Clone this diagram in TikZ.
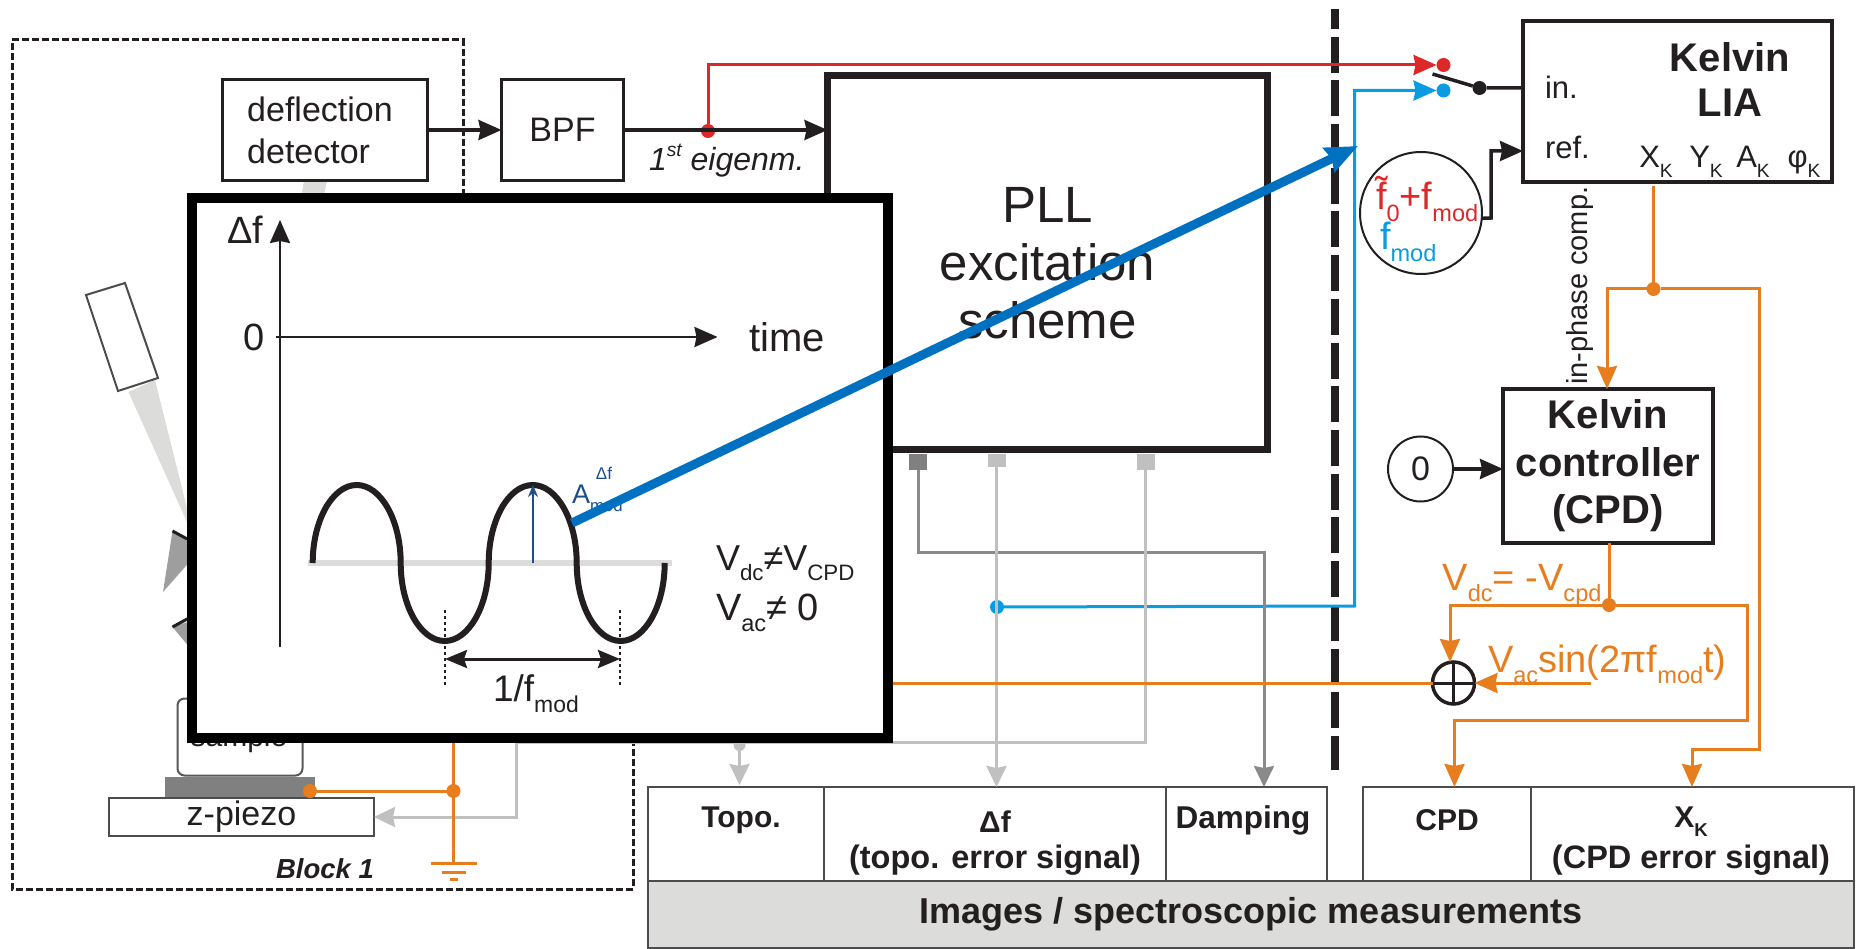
\documentclass[tikz,border=0pt]{standalone}
\usepackage{fontspec}
\setmainfont{Liberation Sans}
\usetikzlibrary{arrows.meta,calc}
\newcommand{\fsize}[1]{\fontsize{#1}{#1}\selectfont}
\newcommand{\subs}[1]{\raisebox{-.3em}{\scalebox{.62}{#1}}}
\definecolor{inkblack}{RGB}{35,31,32}
\definecolor{wireorange}{RGB}{232,125,30}
\definecolor{wirered}{RGB}{220,40,40}
\definecolor{wireblue}{RGB}{10,155,224}
\definecolor{thickblue}{RGB}{0,112,192}
\definecolor{ampblue}{RGB}{31,78,140}
\definecolor{wirelight}{RGB}{192,192,192}
\definecolor{wiredark}{RGB}{138,138,138}
\definecolor{tablegray}{RGB}{220,220,218}

\begin{document}
\begin{tikzpicture}[
  x=1pt,y=-1pt,
  every node/.style={inner sep=0pt,outer sep=0pt,text=inkblack},
  box/.style={draw=inkblack,fill=white,line width=3.5pt,align=center},
  cellbox/.style={draw=black!70,fill=white,line width=2pt},
  lbl/.style={anchor=base west},
  tablelbl/.style={font=\fsize{30}\bfseries},
  tablewide/.style={font=\fsize{32.5}\bfseries},
  dotnode/.style={circle,fill,inner sep=0pt,minimum size=14pt},
  portbox/.style={minimum width=18pt,minimum height=16pt},
  arrow/.style={-{Stealth[length=23pt,width=20pt,inset=2pt]},line width=3.5pt,draw=inkblack},
  orangearrow/.style={arrow,line width=3pt,draw=wireorange,color=wireorange},
  orangeline/.style={line width=3pt,draw=wireorange},
  lightarrow/.style={-{Stealth[length=21pt,width=20pt,inset=2pt]},line width=3pt,draw=wirelight,color=wirelight},
  darkarrow/.style={-{Stealth[length=21pt,width=20pt,inset=2pt]},line width=3pt,draw=wiredark,color=wiredark},
  redarrow/.style={arrow,line width=3pt,draw=wirered,color=wirered},
  bluearrow/.style={arrow,line width=3pt,draw=wireblue,color=wireblue}
]
\useasboundingbox (0,0) rectangle (1856,949);

% block 1 frame
\draw[line width=3pt,draw=inkblack,dash pattern=on 7pt off 3pt]
  (12,40) -- (463,40) -- (463,400) -- (633,400) -- (633,889) -- (12,889) -- cycle;

% optics
\fill[tablegray] (304,181) -- (327,181) -- (310,260) -- (290,260) -- cycle;
\fill[tablegray] (128.5,392) -- (155,380) -- (195,540) -- cycle;
\draw[line width=2pt,draw=black!70] (86,295) -- (125,283) -- (158,378) -- (118,391) -- cycle;
\fill[black!38] (172.5,531) -- (163,592) -- (200,550) -- cycle;
\draw[line width=3pt,draw=inkblack] (172.5,531) -- (200,546);
\fill[black!38] (172.5,627) -- (200,618) -- (200,660) -- cycle;
\draw[line width=3pt,draw=inkblack] (172.5,627) -- (200,612);

% boxes
\node[box,minimum width=205pt,minimum height=101pt,font=\fsize{34},align=left] (detectbox) at (325,130)
  {deflection\hspace*{10pt}\\[8pt]detector};
\node[box,minimum width=122pt,minimum height=101pt,font=\fsize{34}] (bpfbox) at (562.5,130) {BPF};
\node[box,line width=7pt,minimum width=440pt,minimum height=374pt,font=\fontsize{51}{58}\selectfont] (pllbox) at (1047.5,263)
  {PLL\\excitation\\scheme};
\node[box,minimum width=309pt,minimum height=161pt] (liabox) at (1677.5,101.5) {};
\node[box,minimum width=210pt,minimum height=154pt,font=\fontsize{40}{47.5}\selectfont\bfseries] (ctrlbox) at (1608,466)
  {Kelvin\\controller\\(CPD)};

\node[lbl,font=\fsize{40}\bfseries,anchor=center] (kelvintxt) at (1730,57) {Kelvin};
\node[lbl,font=\fsize{40}\bfseries,anchor=center] (liatxt) at (1730,103) {LIA};
\node[lbl,font=\fsize{31}] (intxt) at (1545,99) {in.};
\node[lbl,font=\fsize{31}] (reftxt) at (1545,159) {ref.};
\node[lbl,font=\fsize{31},anchor=base] (xktxt) at (1656,168) {X\subs{K}};
\node[lbl,font=\fsize{31},anchor=base] (yktxt) at (1706,168) {Y\subs{K}};
\node[lbl,font=\fsize{31},anchor=base] (aktxt) at (1753,168) {A\subs{K}};
\node[lbl,font=\fsize{31},anchor=base] (phitxt) at (1804,168) {φ\subs{K}};

% sample stage
\node[draw=black!65,fill=white,line width=2pt,rounded corners=7pt,minimum width=125pt,minimum height=77pt] (samplebox) at (240,737) {};
\node[lbl,font=\fsize{30},anchor=base] (sampletxt) at (239,746) {sample};
\node[fill=black!50,minimum width=150pt,minimum height=21pt] (stagebox) at (240,787.5) {};
\node[cellbox,minimum width=265pt,minimum height=38pt,font=\fsize{34}] (zbox) at (241.5,817) {z-piezo};
\node[lbl,font=\fsize{27.5}\bfseries\itshape] (blocktxt) at (276,878) {Block 1};

% port squares on the pll
\node[portbox,fill=black!50,anchor=north] (portdamp) at (918,454) {};
\node[portbox,fill=wirelight,anchor=north,minimum height=13pt] (portdf) at (996.5,454) {};
\node[portbox,fill=wirelight,anchor=north] (porttopo) at (1145.5,454) {};

% results table
\node[cellbox,minimum width=176pt,minimum height=94pt] (topocell) at (736,834) {};
\node[cellbox,minimum width=342pt,minimum height=94pt] (dfcell) at (995,834) {};
\node[cellbox,minimum width=161pt,minimum height=94pt] (dampcell) at (1246.5,834) {};
\node[cellbox,minimum width=168pt,minimum height=94pt] (cpdcell) at (1447,834) {};
\node[cellbox,minimum width=323pt,minimum height=94pt] (xkcell) at (1692.5,834) {};
\node[draw=black!70,fill=tablegray,line width=2pt,minimum width=1206pt,minimum height=67pt,
  font=\fsize{36}\bfseries] (imgbox) at (1251,914.5) {Images / spectroscopic measurements};
\node[tablelbl] (topotxt) at (741,820) {Topo.};
\node[tablelbl] (dftxt) at (995,822) {Δf};
\node[tablewide] (dferrtxt) at (995,860) {(topo. error signal)};
\node[tablelbl,font=\fsize{31.5}\bfseries] (damptxt) at (1243,820) {Damping};
\node[tablelbl] (cpdtxt) at (1447,820) {CPD};
\node[tablelbl] (xktabtxt) at (1691,822) {X\subs{K}};
\node[tablewide] (xkerrtxt) at (1691,860) {(CPD error signal)};

% divider
\draw[line width=7.5pt,draw=inkblack,dash pattern=on 36pt off 7.7pt,dash phase=16pt] (1335,9) -- (1335,770);

% switch and dots
\node[dotnode,wirered] (reddot) at (1443.5,65) {};
\node[dotnode,wireblue] (bluedot) at (1443.5,90.5) {};
\node[dotnode,inkblack] (pivotdot) at (1479.5,88) {};
\node[dotnode,wirered] (redjoin) at (708,131) {};
\node[dotnode,wireblue] (dfdot) at (997,607) {};
\node[dotnode,wireorange] (xkjoin) at (1653.5,289) {};
\node[dotnode,wireorange] (ctrljoin) at (1609,605) {};
\node[dotnode,wireorange] (stagedot) at (310,791) {};
\node[dotnode,wireorange] (gndjoin) at (453.5,791) {};
\node[dotnode,wirelight,minimum size=12pt] (topojoin) at (739.5,745) {};

% circles
\node[draw=inkblack,fill=white,circle,line width=2pt,minimum size=122pt] (fcircle) at (1421,213) {};
\node[lbl,font=\fsize{38},text=wirered] (ftop) at (1376,210) {\~{f}\subs{0}+f\subs{mod}};
\node[lbl,font=\fsize{38},text=wireblue] (fbot) at (1380,250) {f\subs{mod}};
\node[draw=inkblack,fill=white,circle,line width=2pt,minimum size=65pt,font=\fsize{34}] (zerocircle) at (1420.5,469) {0};
\node[draw=inkblack,fill=white,circle,line width=3.5pt,minimum size=42pt] (adder) at (1453.5,683) {};

% bends
\coordinate (leverend) at (1432.5,74);
\coordinate (refbend) at (1491,218);
\coordinate (refport) at (1523,151);
\coordinate (xkout) at (1653.5,186);
\coordinate (xkleft) at (1607,289);
\coordinate (xkright) at (1759,289);
\coordinate (xklow) at (1759,749);
\coordinate (xkdrop) at (1692,749);
\coordinate (xkin) at (1692,787);
\coordinate (ctrlin) at (1607,389);
\coordinate (ctrlout) at (1609,543);
\coordinate (addleft) at (1450,605);
\coordinate (addtop) at (1450,662);
\coordinate (ctrlright) at (1747.5,605);
\coordinate (cpdrise) at (1747.5,720);
\coordinate (cpdbend) at (1454.5,720);
\coordinate (cpdin) at (1454.5,787);
\coordinate (sinstart) at (1590.5,683);
\coordinate (gndleft) at (453.5,683);
\coordinate (gnd) at (453.5,863);
\coordinate (bluerise) at (1354.5,606);
\coordinate (damprow) at (918,552);
\coordinate (dampdrop) at (1264,552);
\coordinate (dampin) at (1264,787);
\coordinate (dfin) at (996.5,787);
\coordinate (topobend) at (1145.5,742);
\coordinate (topoin) at (739.5,785);
\coordinate (zrow) at (516.5,742);
\coordinate (zbend) at (516.5,817);

% connectors
\draw[arrow] (detectbox) -- (bpfbox);
\draw[arrow] (bpfbox) -- (bpfbox -| pllbox.west);
\draw[redarrow] (redjoin) |- (reddot);
\draw[bluearrow] (dfdot) -- (bluerise) |- (bluedot);
\draw[line width=3.5pt,draw=inkblack] (leverend) -- (pivotdot) -- (pivotdot -| liabox.west);
\draw[arrow] (fcircle.-5) -- (refbend) |- (refport);
\draw[arrow] (zerocircle) -- (zerocircle -| ctrlbox.west);

\draw[darkarrow] (portdamp) -- (damprow) -- (dampdrop) -- (dampin);
\draw[lightarrow] (portdf) -- (dfin);
\draw[lightarrow] (porttopo) -- (topobend) -- (zrow) -- (zbend) -- (zbox);
\draw[lightarrow] (topojoin) -- (topoin);

\draw[orangeline] (xkout) -- (xkjoin);
\draw[orangearrow] (xkjoin) -- (xkleft) -- (ctrlin);
\draw[orangearrow] (xkjoin) -- (xkright) -- (xklow) -- (xkdrop) -- (xkin);
\draw[orangeline] (ctrlout) -- (ctrljoin);
\draw[orangearrow] (ctrljoin) -- (addleft) -- (addtop);
\draw[orangearrow] (ctrljoin) -- (ctrlright) -- (cpdrise) -- (cpdbend) -- (cpdin);
\draw[orangearrow] (sinstart) -- (adder);
\draw[orangeline] (adder) -- (gndleft) -- (gnd);
\draw[orangeline] (stagedot) -- (gndjoin);
\draw[orangeline] ($(gnd)+(-23,0)$) -- ($(gnd)+(23,0)$);
\draw[orangeline] ($(gnd)+(-12,9)$) -- ($(gnd)+(12,9)$);
\draw[orangeline] ($(gnd)+(-4,16)$) -- ($(gnd)+(4,16)$);
\draw[line width=3pt,draw=inkblack] (adder.north) -- (adder.south);
\draw[line width=3pt,draw=inkblack] (adder.west) -- (adder.east);

% wire labels
\node[lbl,font=\fsize{32}\itshape] (eigentxt) at (649,171) {1\raisebox{.45em}{\scalebox{.6}{st}} eigenm.};
\node[lbl,font=\fsize{29},rotate=90,anchor=west] (phasetxt) at (1580,385) {in-phase comp.};
\node[lbl,font=\fsize{38},text=wireorange] (vdctxt) at (1442.5,590) {V\subs{dc}= -V\subs{cpd}};
\node[lbl,font=\fsize{38},text=wireorange] (vactxt) at (1488,672) {V\subs{ac}sin(2πf\subs{mod}t)};

% inset plot
\node[draw=black,fill=white,line width=10pt,minimum width=696.5pt,minimum height=539.5pt] (insetbox) at (539.75,467.75) {};
\coordinate (axisbottom) at (280,647);
\coordinate (axistop) at (280,220);
\coordinate (timeleft) at (275.5,337);
\coordinate (timeright) at (717.5,337);
\coordinate (baseleft) at (308,563);
\coordinate (baseright) at (672,563);
\coordinate (ampfoot) at (533,563);
\coordinate (amptop) at (533,485);
\coordinate (dotsleftup) at (445,610);
\coordinate (dotsleftdown) at (445,686);
\coordinate (dotsrightup) at (620,610);
\coordinate (dotsrightdown) at (620,686);
\coordinate (periodleft) at (445,659);
\coordinate (periodright) at (620,659);
\draw[line width=6pt,draw=tablegray] (baseleft) -- (baseright);
\draw[arrow,line width=2.5pt] (axisbottom) -- (axistop);
\draw[arrow,line width=2.5pt] (timeleft) -- (timeright);
\draw[line width=6pt,draw=inkblack] (312.7,563)
  .. controls +(0,-43) and +(-24,0) .. (356.7,485)
  .. controls +(24,0) and +(0,-43) .. (400.7,563)
  .. controls +(0,43) and +(-24,0) .. (444.7,641)
  .. controls +(24,0) and +(0,43) .. (488.7,563)
  .. controls +(0,-43) and +(-24,0) .. (532.7,485)
  .. controls +(24,0) and +(0,-43) .. (576.7,563)
  .. controls +(0,43) and +(-24,0) .. (620.7,641)
  .. controls +(24,0) and +(0,43) .. (664.7,563);
\draw[-{Stealth[length=12pt,width=10pt]},line width=2pt,draw=ampblue,color=ampblue] (ampfoot) -- (amptop);
\draw[line width=2.5pt,draw=inkblack,dash pattern=on 3pt off 3pt] (dotsleftup) -- (dotsleftdown);
\draw[line width=2.5pt,draw=inkblack,dash pattern=on 3pt off 3pt] (dotsrightup) -- (dotsrightdown);
\draw[{Stealth[length=22pt,width=18pt,inset=3pt]}-{Stealth[length=22pt,width=18pt,inset=3pt]},line width=3pt,draw=inkblack] (periodleft) -- (periodright);
\node[font=\fsize{38}] (dftop) at (245,230) {Δf};
\node[font=\fsize{38}] (zerotxt) at (254,337) {0};
\node[lbl,font=\fsize{40},anchor=center] (timetxt) at (787,337) {time};
\node[lbl,font=\fsize{37}] (fmodtxt) at (493,701) {1/f\subs{mod}};
\node[lbl,font=\fsize{36}] (vdctxtb) at (716,570) {V\subs{dc}≠V\subs{CPD}};
\node[lbl,font=\fsize{38}] (vactxtb) at (716,620) {V\subs{ac}≠ 0};
\node[lbl,font=\fsize{27},text=ampblue] (amptxt) at (572,503) {A\subs{mod}};
\node[font=\fsize{17},text=ampblue] (ampdf) at (604,473) {Δf};

% blue pointer
\coordinate (pointerfrom) at (572,523);
\coordinate (pointerto) at (1358,146);
\draw[-{Stealth[length=32pt,width=26pt,inset=3pt]},line width=9pt,draw=thickblue,color=thickblue] (pointerfrom) -- (pointerto);
\end{tikzpicture}
\end{document}
